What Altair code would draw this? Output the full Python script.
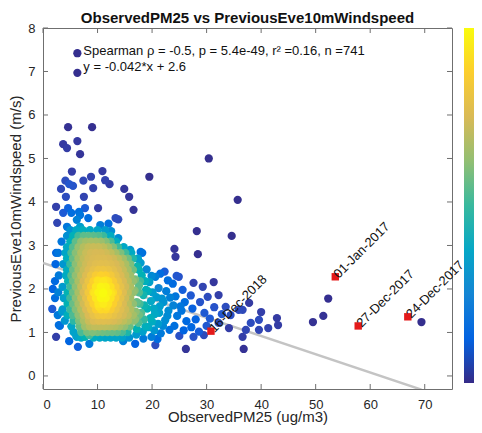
import numpy as np
import pandas as pd
import altair as alt

out_x = [6.3, 6.3, 4.6, 9.0, 3.7, 4.4, 6.3, 6.8, 30.4, 19.5, 35.7,
         5.3, 10.9, 8.8, 7.4, 4.1, 11.4, 12.2, 4.8, 3.3, 5.5, 9.2, 14.9, 15.8, 16.6, 4.2, 7.5,
         2.4, 2.6, 4.6, 3.7, 5.2, 6.6, 7.7, 10.1, 13.3, 13.8, 8.3, 6.2, 6.8, 4.4, 6.8,
         12.0, 12.5, 10.5, 13.8, 16.0, 17.9,
         28.2, 34.6, 24.1, 24.3, 28.4, 18.2, 2.4,
         24.9, 27.6, 29.3, 31.3, 32.2, 30.2, 37.8, 35.9, 40.0, 38.1, 39.6, 41.3, 43.1, 39.6,
         37.2, 36.6, 36.8, 26.2, 34.1, 34.4, 33.5, 32.2, 27.6, 29.5, 42.9, 52.3, 51.4, 49.5,
         69.4, 36.6,
         1.8, 1.7, 3.5, 2.4, 3.1, 4.8, 6.4, 6.1, 8.5, 7.7, 16.9, 20.6, 14.7, 2.9, 8.5, 6.2]
out_y = [7.42, 6.97, 5.72, 5.72, 5.33, 5.24, 5.40, 5.10, 5.00, 4.58, 4.05,
         4.70, 4.71, 4.58, 4.49, 4.49, 4.50, 4.41, 4.41, 4.30, 4.37, 4.32, 4.30, 4.12, 3.82, 4.12, 4.12,
         3.89, 3.52, 3.86, 3.75, 3.75, 3.77, 3.86, 3.86, 3.63, 3.60, 3.63, 3.59, 3.70, 3.43, 3.43,
         3.50, 3.33, 3.47, 3.17, 2.90, 2.85,
         3.33, 3.22, 2.92, 2.74, 2.80, 2.83, 2.83,
         2.28, 2.14, 2.05, 2.16, 1.86, 1.82, 1.68, 1.52, 1.47, 1.22, 1.29, 1.10, 1.17, 1.06,
         1.06, 0.90, 0.62, 0.62, 1.10, 1.40, 1.59, 1.22, 0.90, 0.94, 1.33, 1.78, 1.38, 1.24,
         1.24, 1.52,
         2.00, 1.54, 1.48, 0.90, 1.15, 0.80, 0.67, 0.92, 0.74, 0.90, 0.74, 0.71, 0.80, 1.17, 0.94, 0.90]

# ---- right-hand tail of the cloud (PM25 16-33)
tail_x = [17.3, 18.1, 17.6, 18.4, 17.2, 18.0, 17.5, 18.3, 17.1,
          19.0, 19.5, 19.2, 19.8, 19.1, 19.7, 19.3, 19.9,
          20.6, 21.2, 20.8, 21.4, 20.5, 21.1, 21.6,
          22.3, 22.6, 22.1, 23.0, 22.4, 23.2,
          23.8, 24.3, 23.9, 24.6, 24.1, 25.0,
          25.6, 26.0, 25.4, 26.3, 25.8,
          27.1, 27.4, 28.0, 27.2, 28.8, 29.6, 28.6, 30.6, 31.4, 32.8, 30.0,
          16.9, 16.8, 17.0, 16.9, 17.2, 17.9, 18.7, 18.9, 18.6, 18.5, 18.8, 18.4,
          19.9, 20.1, 20.3, 20.0, 20.4, 21.5, 21.8, 21.3, 22.0, 21.0,
          22.9, 23.3, 22.8, 24.5, 25.2]
tail_y = [2.52, 2.31, 2.08, 1.86, 1.70, 1.45, 1.22, 1.02, 0.95,
          2.45, 2.16, 1.95, 1.72, 1.55, 1.33, 1.12, 0.90,
          2.28, 2.02, 1.81, 1.60, 1.42, 1.20, 0.98,
          2.40, 1.95, 1.70, 1.50, 1.28, 1.06,
          2.12, 1.83, 1.62, 1.38, 1.15, 0.92,
          1.98, 1.70, 1.50, 1.26, 1.05,
          1.85, 1.55, 1.30, 1.12, 1.70, 1.45, 1.02, 1.32, 1.58, 1.42, 1.15,
          2.22, 1.96, 1.48, 1.30, 1.08, 2.60, 2.18, 1.98, 1.62, 1.30, 1.14, 0.86,
          2.30, 1.92, 1.55, 1.25, 1.05, 2.35, 1.78, 1.45, 1.15, 0.85,
          2.20, 1.80, 1.38, 2.30, 1.60]

# ---- the crowded part of the cloud, read row by row (windspeed, list of PM25)
cloud_rows = [
    (3.35, [5.0, 6.1, 7.3, 8.6, 10.0, 11.4]),
    (3.22, [4.4, 5.5, 6.5, 7.45, 8.35, 9.25, 10.15, 11.05, 12.4]),
    (3.09, [3.4, 5.0, 6.0, 7.0, 7.9, 8.8, 9.7, 10.6, 11.5, 12.4, 13.4]),
    (2.96, [4.4, 5.5, 6.5, 7.45, 8.35, 9.25, 10.15, 11.05, 11.95, 12.85, 13.75, 14.8]),
    (2.83, [2.8, 4.1, 5.2, 6.0, 7.0, 7.9, 8.8, 9.7, 10.6, 11.5, 12.4, 13.3, 14.2, 15.1, 16.2]),
    (2.70, [4.4, 5.5, 6.5, 7.45, 8.35, 9.25, 10.15, 11.05, 11.95, 12.85, 13.75, 14.65, 15.55, 16.5, 17.4]),
    (2.57, [2.3, 3.7, 5.0, 6.0, 7.0, 7.9, 8.8, 9.7, 10.6, 11.5, 12.4, 13.3, 14.2, 15.1, 16.0]),
    (2.44, [4.4, 5.5, 6.5, 7.45, 8.35, 9.25, 10.15, 11.05, 11.95, 12.85, 13.75, 14.65, 15.55, 16.5, 17.6]),
    (2.31, [2.9, 4.2, 5.2, 6.0, 7.0, 7.9, 8.8, 9.7, 10.6, 11.5, 12.4, 13.3, 14.2, 15.1, 16.0]),
    (2.18, [2.2, 4.6, 5.5, 6.5, 7.45, 8.35, 9.25, 10.15, 11.05, 11.95, 12.85, 13.75, 14.65, 15.55, 16.5, 17.8]),
    (2.05, [3.6, 5.0, 6.0, 7.0, 7.9, 8.8, 9.7, 10.6, 11.5, 12.4, 13.3, 14.2, 15.1, 16.0]),
    (1.92, [2.8, 4.5, 5.5, 6.5, 7.45, 8.35, 9.25, 10.15, 11.05, 11.95, 12.85, 13.75, 14.65, 15.55, 16.5, 17.6]),
    (1.79, [2.2, 3.8, 5.0, 6.0, 7.0, 7.9, 8.8, 9.7, 10.6, 11.5, 12.4, 13.3, 14.2, 15.1, 16.0]),
    (1.66, [4.5, 5.5, 6.5, 7.45, 8.35, 9.25, 10.15, 11.05, 11.95, 12.85, 13.75, 14.65, 15.55, 16.5, 17.7]),
    (1.53, [3.6, 5.0, 6.0, 7.0, 7.9, 8.8, 9.7, 10.6, 11.5, 12.4, 13.3, 14.2, 15.1, 16.0]),
    (1.40, [2.7, 4.5, 5.5, 6.5, 7.45, 8.35, 9.25, 10.15, 11.05, 11.95, 12.85, 13.75, 14.65, 15.55, 16.5, 17.6]),
    (1.27, [4.0, 5.6, 6.6, 7.5, 8.4, 9.3, 10.2, 11.1, 12.0, 12.9, 13.8, 14.7, 15.6, 16.6]),
    (1.14, [5.2, 6.7, 7.7, 8.6, 9.5, 10.4, 11.3, 12.2, 13.1, 14.0, 14.9, 15.9]),
    (1.01, [5.6, 7.0, 8.1, 9.1, 10.0, 10.9, 11.8, 12.7, 13.6, 14.5, 15.5]),
    (0.88, [7.0, 9.3, 10.4, 11.4, 12.4, 13.4, 14.5, 15.8]),
]
core_rows = [
    (2.20, [10.0, 11.5]),
    (1.90, [9.5, 11.0, 12.5]),
    (1.60, [10.2, 11.7]),
]

# ---- highlighted days
event_dates = ["16-Dec-2018", "01-Jan-2017", "27-Dec-2017", "24-Dec-2017"]
event_x = [30.8, 53.6, 57.8, 66.9]
event_y = [1.03, 2.28, 1.15, 1.36]

# ---- fit, statistics and title
chart_title = ["ObservedPM25 vs PreviousEve10mWindspeed"]
fit_slope = -0.042
fit_intercept = 2.6
stat_lines = ["Spearman \u03c1 = -0.5, p = 5.4e-49, r\u00b2 =0.16, n =741",
              "y = -0.042*x + 2.6"]
stat_x = [7.4, 7.4]
stat_y = [7.47, 7.10]

x_ticks = [0, 10, 20, 30, 40, 50, 60, 70]
y_ticks = [0, 1, 2, 3, 4, 5, 6, 7, 8]
parula = ["#352a87", "#0363e1", "#1485d4", "#06a7c6", "#38b99e",
          "#92bf73", "#d9ba56", "#fcce2e", "#f9fb0e"]

# ---------------------------------------------------------------- build tables
xs = list(out_x) + list(tail_x)
ys = list(out_y) + list(tail_y)
for yv, row in cloud_rows + core_rows:
    xs += row
    ys += [yv] * len(row)
xa = np.array(xs)
ya = np.array(ys)
hx, hy = 1.6, 0.2
d2 = ((xa[:, None] - xa[None, :]) / hx) ** 2 + ((ya[:, None] - ya[None, :]) / hy) ** 2
dens = np.exp(-0.5 * d2).sum(axis=1)
dens = dens / dens.max()
pts = pd.DataFrame({"x": xa, "y": ya, "d": dens}).sort_values("d").reset_index(drop=True)

fx = [0.0, float(xa.max())]
line_df = pd.DataFrame({"x": fx, "y": [fit_slope * v + fit_intercept for v in fx]})
ev_df = pd.DataFrame({"x": event_x, "y": event_y, "label": event_dates})
st_df = pd.DataFrame({"x": stat_x, "y": stat_y, "t": stat_lines})
xt_df = pd.DataFrame({"x": x_ticks})
yt_df = pd.DataFrame({"y": y_ticks})
ti_df = pd.DataFrame({"t": chart_title})

W, H = 409, 361
FONT = "Liberation Sans"
X = alt.X("x:Q", scale=alt.Scale(domain=[0, 75], nice=False, zero=False),
          title="ObservedPM25 (ug/m3)",
          axis=alt.Axis(values=x_ticks, labelPadding=9, titleY=32, titleBaseline="alphabetic"))
Y = alt.Y("y:Q", scale=alt.Scale(domain=[-0.3, 8], nice=False, zero=False),
          title="PreviousEve10mWindspeed (m/s)",
          axis=alt.Axis(values=y_ticks, labelPadding=8, titlePadding=4))

fit = alt.Chart(line_df).mark_line(color="#c4c4c4", strokeWidth=2.5, clip=True).encode(x=X, y=Y)

dots = alt.Chart(pts).mark_circle(size=68, opacity=1).encode(
    x=X, y=Y,
    color=alt.Color("d:Q", scale=alt.Scale(type="pow", exponent=1.5, domain=[0, 1],
                                           range=parula), legend=None),
)

cbar = alt.Chart(pd.DataFrame({"k": [0]})).mark_rect(
    color=alt.LinearGradient(
        gradient="linear",
        stops=[alt.GradientStop(color=c, offset=i / (len(parula) - 1)) for i, c in enumerate(parula)],
        x1=0, x2=0, y1=1, y2=0),
).encode(x=alt.value(421), x2=alt.value(431), y=alt.value(0), y2=alt.value(355))

title_mark = alt.Chart(ti_df).mark_text(align="center", baseline="alphabetic", font=FONT,
                                        fontSize=15, fontWeight="bold", color="#111").encode(
    x=alt.value(W / 2), y=alt.value(-5), text="t:N")

ev = alt.Chart(ev_df).mark_square(size=55, color="#e41a1a", opacity=1).encode(x=X, y=Y)
ev_txt = alt.Chart(ev_df).mark_text(angle=315, align="left", baseline="middle", dx=1,
                                    font=FONT, fontSize=13, color="#111").encode(
    x=X, y=Y, text="label:N")

stats = alt.Chart(st_df).mark_text(align="left", baseline="middle", font=FONT,
                                   fontSize=13, color="#111").encode(x=X, y=Y, text="t:N")

tk = dict(color="#6f6f6f", strokeWidth=1)
tb = alt.Chart(xt_df).mark_rule(**tk).encode(x=X, y=alt.value(H), y2=alt.value(H - 5))
tt = alt.Chart(xt_df).mark_rule(**tk).encode(x=X, y=alt.value(0), y2=alt.value(5))
tl = alt.Chart(yt_df).mark_rule(**tk).encode(y=Y, x=alt.value(0), x2=alt.value(5))
tr = alt.Chart(yt_df).mark_rule(**tk).encode(y=Y, x=alt.value(W), x2=alt.value(W - 5))

chart = alt.layer(fit, dots, ev, ev_txt, stats, tb, tt, tl, tr, cbar, title_mark).properties(
    width=W, height=H,
    autosize=alt.AutoSizeParams(type="none"),
    padding={"left": 35, "top": 20, "right": 22, "bottom": 36},
).configure_view(stroke="#6f6f6f", strokeWidth=1).configure_axis(
    domain=False, ticks=False, grid=False,
    labelFont=FONT, labelFontSize=13, labelColor="#262626",
    titleFont=FONT, titleFontSize=15, titleFontWeight="normal", titleColor="#262626",
)

chart.save("out.html", embed_options={"renderer": "svg", "actions": False})
